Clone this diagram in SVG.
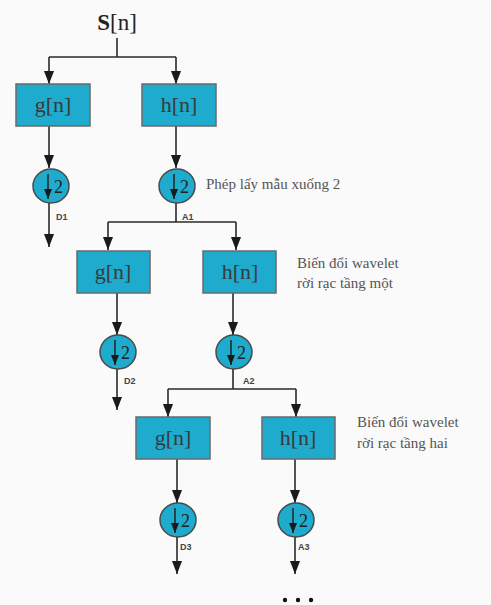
<svg xmlns="http://www.w3.org/2000/svg" width="491" height="605" viewBox="0 0 491 605">
<defs>
<style>
.bg{fill:#fafafa}
.box{fill:#1fabcd;stroke:#6a6a6a;stroke-width:1.5}
.btxt{font-family:"Liberation Serif",serif;font-size:22px;fill:#3a3a3a;text-anchor:middle}
.circ{fill:#1fabcd;stroke:#4a4a4a;stroke-width:1.5}
.two{font-family:"Liberation Serif",serif;font-size:18px;fill:#222}
.lbl{font-family:"Liberation Sans",sans-serif;font-size:9px;font-weight:bold;fill:#444}
.note{font-family:"Liberation Serif",serif;font-size:15px;fill:#555}
.ln{stroke:#2a2a2a;stroke-width:1.6;fill:none}
</style>
<marker id="ah" viewBox="0 0 10 8" refX="10" refY="4" markerWidth="10" markerHeight="8" markerUnits="userSpaceOnUse" orient="auto">
<path d="M0,0 L10,4 L0,8 z" fill="#1a1a1a"/>
</marker>
<marker id="ah2" viewBox="0 0 13 10" refX="13" refY="5" markerWidth="13" markerHeight="10" markerUnits="userSpaceOnUse" orient="auto">
<path d="M0,0 L13,5 L0,10 z" fill="#1a1a1a"/>
</marker>
</defs>
<rect class="bg" x="0" y="0" width="491" height="605"/>

<g id="connectors" class="ln">
<path d="M117,38 V57 M49,57 H176"/>
<path d="M49,57 V84" marker-end="url(#ah2)"/>
<path d="M176,57 V84" marker-end="url(#ah2)"/>
<path d="M49,126 V168" marker-end="url(#ah2)"/>
<path d="M176,126 V168" marker-end="url(#ah2)"/>
<path d="M49,203 V247" marker-end="url(#ah2)"/>
<path d="M176,203 V222 M108,222 H236"/>
<path d="M108,222 V250" marker-end="url(#ah2)"/>
<path d="M236,222 V250" marker-end="url(#ah2)"/>
<path d="M117,293 V335" marker-end="url(#ah2)"/>
<path d="M233,293 V335" marker-end="url(#ah2)"/>
<path d="M117,369 V410" marker-end="url(#ah2)"/>
<path d="M233,369 V389 M168,389 H296"/>
<path d="M168,389 V417" marker-end="url(#ah2)"/>
<path d="M296,389 V417" marker-end="url(#ah2)"/>
<path d="M177,459 V503" marker-end="url(#ah2)"/>
<path d="M295,459 V503" marker-end="url(#ah2)"/>
<path d="M177,537 V574" marker-end="url(#ah2)"/>
<path d="M295,537 V574" marker-end="url(#ah2)"/>
</g>

<g id="source">
<text x="117" y="30" font-family="Liberation Serif,serif" font-size="23" fill="#222" text-anchor="middle"><tspan font-weight="bold">S</tspan>[n]</text>
</g>

<g id="g1"><rect class="box" x="16" y="84" width="74" height="42"/><text class="btxt" x="53" y="112">g[n]</text></g>
<g id="h1"><rect class="box" x="142" y="84" width="74" height="42"/><text class="btxt" x="179" y="112">h[n]</text></g>

<g id="ds1a"><ellipse class="circ" cx="51" cy="186" rx="18" ry="17"/><path class="ln" d="M48,174 V199" marker-end="url(#ah)"/><text class="two" x="54" y="193">2</text><text class="lbl" x="56" y="220">D1</text></g>
<g id="ds1b"><ellipse class="circ" cx="177" cy="186" rx="18" ry="17"/><path class="ln" d="M174,174 V199" marker-end="url(#ah)"/><text class="two" x="180" y="193">2</text><text class="lbl" x="182" y="220">A1</text></g>

<g id="g2"><rect class="box" x="77" y="251" width="73" height="42"/><text class="btxt" x="113" y="279">g[n]</text></g>
<g id="h2"><rect class="box" x="203" y="251" width="73" height="42"/><text class="btxt" x="240" y="279">h[n]</text></g>

<g id="ds2a"><ellipse class="circ" cx="118" cy="352" rx="18" ry="17"/><path class="ln" d="M115,340 V365" marker-end="url(#ah)"/><text class="two" x="121" y="359">2</text><text class="lbl" x="124" y="384">D2</text></g>
<g id="ds2b"><ellipse class="circ" cx="234" cy="352" rx="18" ry="17"/><path class="ln" d="M231,340 V365" marker-end="url(#ah)"/><text class="two" x="237" y="359">2</text><text class="lbl" x="243" y="384">A2</text></g>

<g id="g3"><rect class="box" x="136" y="417" width="74" height="42"/><text class="btxt" x="173" y="445">g[n]</text></g>
<g id="h3"><rect class="box" x="262" y="417" width="73" height="42"/><text class="btxt" x="298" y="445">h[n]</text></g>

<g id="ds3a"><ellipse class="circ" cx="178" cy="520" rx="18" ry="17"/><path class="ln" d="M175,508 V533" marker-end="url(#ah)"/><text class="two" x="181" y="527">2</text><text class="lbl" x="180" y="550">D3</text></g>
<g id="ds3b"><ellipse class="circ" cx="296" cy="520" rx="18" ry="17"/><path class="ln" d="M293,508 V533" marker-end="url(#ah)"/><text class="two" x="299" y="527">2</text><text class="lbl" x="298" y="550">A3</text></g>

<g id="notes">
<text class="note" x="206" y="189">Phép lấy mẫu xuống 2</text>
<text class="note" x="297" y="268">Biến đổi wavelet</text>
<text class="note" x="297" y="288">rời rạc tầng một</text>
<text class="note" x="357" y="427">Biến đổi wavelet</text>
<text class="note" x="357" y="448">rời rạc tầng hai</text>
</g>
<g id="more"><circle cx="285" cy="600" r="2.2" fill="#111"/><circle cx="298" cy="600" r="2.2" fill="#111"/><circle cx="311" cy="600" r="2.2" fill="#111"/></g>
</svg>
